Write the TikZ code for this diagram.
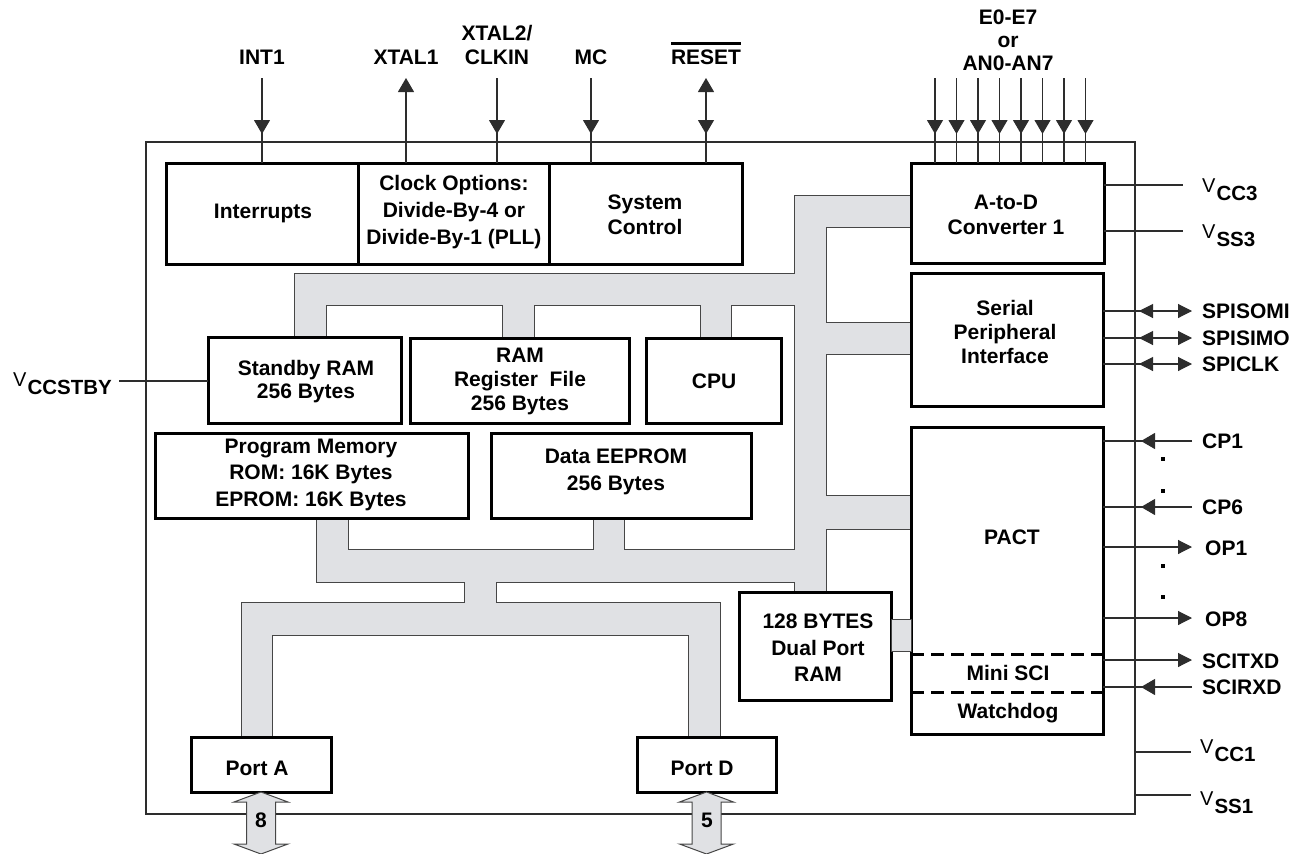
\documentclass[tikz,border=0pt]{standalone}
\usepackage{fontspec}
\setmainfont{Liberation Sans}
\usetikzlibrary{arrows.meta,decorations.markings}
\definecolor{busfill}{RGB}{224,225,228}
\definecolor{busline}{RGB}{70,70,70}
\definecolor{pincol}{RGB}{45,45,45}
\newcommand\pwr[2]{{\fontsize{20}{20}\selectfont\mdseries #1}\kern1pt\raisebox{-8.5pt}{\fontsize{20.5}{20}\selectfont\bfseries #2}}
\newcommand\topbar[1]{\setbox0\hbox{#1}\rlap{\rule[20pt]{\wd0}{2.6pt}}\box0}
\begin{document}
\begin{tikzpicture}[x=1pt,y=-1pt,
  blk/.style={draw=black, line width=3pt, fill=white, inner sep=0pt, outer sep=0pt},
  txt/.style={font=\fontsize{21}{#1}\selectfont\bfseries, align=center, inner sep=0pt},
  txt/.default=25,
  lbl/.style={font=\fontsize{21}{24}\selectfont\bfseries, inner sep=0pt},
  pin/.style={draw=pincol, line width=1.1pt},
  amid/.style={postaction={decorate}, decoration={markings, mark=at position #1 with {\arrow{Triangle[width=16pt,length=14pt]}}}},
  amidr/.style={postaction={decorate}, decoration={markings, mark=at position #1 with {\arrowreversed{Triangle[width=14pt,length=14pt]}}}},
  aend/.style={-{Triangle[width=14pt,length=14pt]}},
  astart/.style={{Triangle[width=16pt,length=14pt]}-},
  busstyle/.style={draw=busline, fill=busfill, line width=1pt},
  portarr/.style={draw=busline, fill=busfill, line width=1pt}
 ]
\useasboundingbox (0,0) rectangle (1304,854);
% chip outline
\draw[draw=pincol, line width=1.1pt] (146,142) rectangle (1135,814);
% internal bus
\path[busstyle] (294,337) -- (294,273) -- (794,273) -- (794,195) -- (911,195) -- (911,227) -- (826,227) -- (826,322) -- (911,322) -- (911,354) -- (826,354) -- (826,495) -- (911,495) -- (911,529) -- (826,529) -- (826,592) -- (794,592) -- (794,582) -- (496,582) -- (496,602) -- (720,602) -- (720,737) -- (688,737) -- (688,635) -- (272,635) -- (272,737) -- (241,737) -- (241,602) -- (464,602) -- (464,582) -- (316,582) -- (316,518) -- (348,518) -- (348,549) -- (593,549) -- (593,518) -- (624,518) -- (624,549) -- (794,549) -- (794,305) -- (731,305) -- (731,338) -- (700,338) -- (700,305) -- (534,305) -- (534,338) -- (502,338) -- (502,305) -- (326,305) -- (326,337) -- cycle;
% blocks
\node[blk, minimum width=192pt, minimum height=101pt] (intr) at (262,213.5) {};
\node[blk, minimum width=191pt, minimum height=101pt] (clk) at (453.5,213.5) {};
\node[blk, minimum width=193pt, minimum height=101pt] (sys) at (645.5,213.5) {};
\node[blk, minimum width=193pt, minimum height=100pt] (atod) at (1007.5,213) {};
\node[blk, minimum width=192pt, minimum height=133pt] (spi) at (1007,339.5) {};
\node[blk, minimum width=192pt, minimum height=307pt] (pact) at (1007,580.5) {};
\node[blk, minimum width=193pt, minimum height=86pt] (sram) at (304.5,380) {};
\node[blk, minimum width=219pt, minimum height=85pt] (rreg) at (519.5,380.5) {};
\node[blk, minimum width=135pt, minimum height=85pt] (cpu) at (713.5,380.5) {};
\node[blk, minimum width=313pt, minimum height=85pt] (pm) at (311.5,475.5) {};
\node[blk, minimum width=260pt, minimum height=85pt] (de) at (621,475.5) {};
\node[blk, minimum width=152pt, minimum height=108pt] (dpr) at (815,646) {};
\node[blk, minimum width=140pt, minimum height=55pt] (porta) at (261,764.5) {};
\node[blk, minimum width=139pt, minimum height=55pt] (portd) at (706.5,764.5) {};
% dual port RAM to PACT link
\path[busstyle] (dpr.east |- 0,619) rectangle (pact.west |- 0,651);
% PACT partitions
\draw[line width=3pt, dash pattern=on 13pt off 7pt] (pact.west |- 0,654) -- (pact.east |- 0,654);
\draw[line width=3pt, dash pattern=on 13pt off 7pt] (pact.west |- 0,692) -- (pact.east |- 0,692);
% port arrows
\draw[portarr] (porta.south) -- ++(27,10) -- ++(-12.5,0) -- ++(0,42) -- ++(12.5,0) -- ++(-27,10) -- ++(-27,-10) -- ++(12.5,0) -- ++(0,-42) -- ++(-12.5,0) -- cycle;
\draw[portarr] (portd.south) -- ++(27,10) -- ++(-12.5,0) -- ++(0,42) -- ++(12.5,0) -- ++(-27,10) -- ++(-27,-10) -- ++(12.5,0) -- ++(0,-42) -- ++(-12.5,0) -- cycle;
\node[lbl, anchor=base] (na) at (261,827.5) {8};
\node[lbl, anchor=base] (nd) at (707,827.5) {5};
% block texts
\node[txt] (tintr) at (263,213) {Interrupts};
\node[txt=27] (tclk) at (454,212) {Clock Options:\\Divide-By-4 or\\Divide-By-1 (PLL)};
\node[txt=25] (tsys) at (645,214.5) {System\\Control};
\node[txt=25] (tatod) at (1006,214.5) {A-to-D\\Converter 1};
\node[txt=24] (tspi) at (1005,332) {Serial\\Peripheral\\Interface};
\node[txt] (tpact) at (1012,537) {PACT};
\node[txt] (tsci) at (1008,673) {Mini SCI};
\node[txt] (twd) at (1008,713) {Watchdog};
\node[txt=23] (tsram) at (306,381.5) {Standby RAM\\256 Bytes};
\node[txt=24] (trreg) at (520,381) {RAM\\Register~~File\\256 Bytes};
\node[txt] (tcpu) at (714,381) {CPU};
\node[txt=26.5] (tpm) at (311,474.5) {Program Memory\\ROM: 16K Bytes\\EPROM: 16K Bytes};
\node[txt=27] (tde) at (616,471.5) {Data EEPROM\\256 Bytes};
\node[txt=26.5] (tdpr) at (818,648) {128 BYTES\\Dual Port\\RAM};
\node[txt] (tpa) at (257,768) {Port A};
\node[txt] (tpd) at (702,768) {Port D};
% top pin labels
\node[lbl, anchor=base] (lint) at (262,64.5) {INT1};
\node[lbl, anchor=base] (lx1) at (406,64.5) {XTAL1};
\node[txt=24] (lx2) at (497,45) {XTAL2/\\CLKIN};
\node[lbl, anchor=base] (lmc) at (591,64.5) {MC};
\node[lbl, anchor=base] (lrst) at (706,64.5) {\topbar{RESET}};
\node[txt=23] (le) at (1008,40) {E0-E7\\or\\AN0-AN7};
% top pins
\draw[pin, amid=56pt] (lint |- 0,78) -- (lint |- intr.north);
\draw[pin, astart] (lx1 |- 0,78) -- (lx1 |- clk.north);
\draw[pin, amid=56pt] (lx2 |- 0,78) -- (lx2 |- clk.north);
\draw[pin, amid=56pt] (lmc |- 0,78) -- (lmc |- sys.north);
\draw[pin, astart, amid=56pt] (lrst |- 0,78) -- (lrst |- sys.north);
\foreach \x in {935,956.5,978,999.5,1021,1042.5,1064,1085.5}
  \draw[pin, amid=56pt] (\x,78) -- (atod.north -| \x,0);
% right pins
\foreach \y/\t in {311/SPISOMI,338/SPISIMO,364/SPICLK}{
  \draw[pin, aend, amidr=36pt] (spi.east |- 0,\y) -- (1192,\y);
  \node[lbl, anchor=base west] at (1202,\y+7.5) {\t};
}
\foreach \y/\t in {441/CP1,507/CP6,687/SCIRXD}{
  \draw[pin, amid=51pt] (1192,\y) -- (pact.east |- 0,\y);
  \node[lbl, anchor=base west] at (1202,\y+7.5) {\t};
}
\foreach \y/\t/\lx in {547/OP1/1205,618/OP8/1205,660/SCITXD/1202}{
  \draw[pin, aend] (pact.east |- 0,\y) -- (1192,\y);
  \node[lbl, anchor=base west] at (\lx,\y+8.5) {\t};
}
\foreach \y in {459,491,566,597}
  \fill (1161,\y-2) rectangle (1165,\y+2);
% power pins
\draw[pin] (atod.east |- 0,185) -- (1183,185);
\draw[pin] (atod.east |- 0,231) -- (1183,231);
\draw[pin] (1135,752) -- (1191,752);
\draw[pin] (1135,795) -- (1191,795);
\draw[pin] (119,381) -- (sram.west |- 0,381);
\node[lbl, anchor=base west] (vcc3) at (1202,192) {\pwr{V}{CC3}};
\node[lbl, anchor=base west] (vss3) at (1202,238) {\pwr{V}{SS3}};
\node[lbl, anchor=base west] (vcc1) at (1200,753) {\pwr{V}{CC1}};
\node[lbl, anchor=base west] (vss1) at (1200,805) {\pwr{V}{SS1}};
\node[lbl, anchor=base west] (vstby) at (13,386) {\pwr{V}{CCSTBY}};
\end{tikzpicture}
\end{document}
